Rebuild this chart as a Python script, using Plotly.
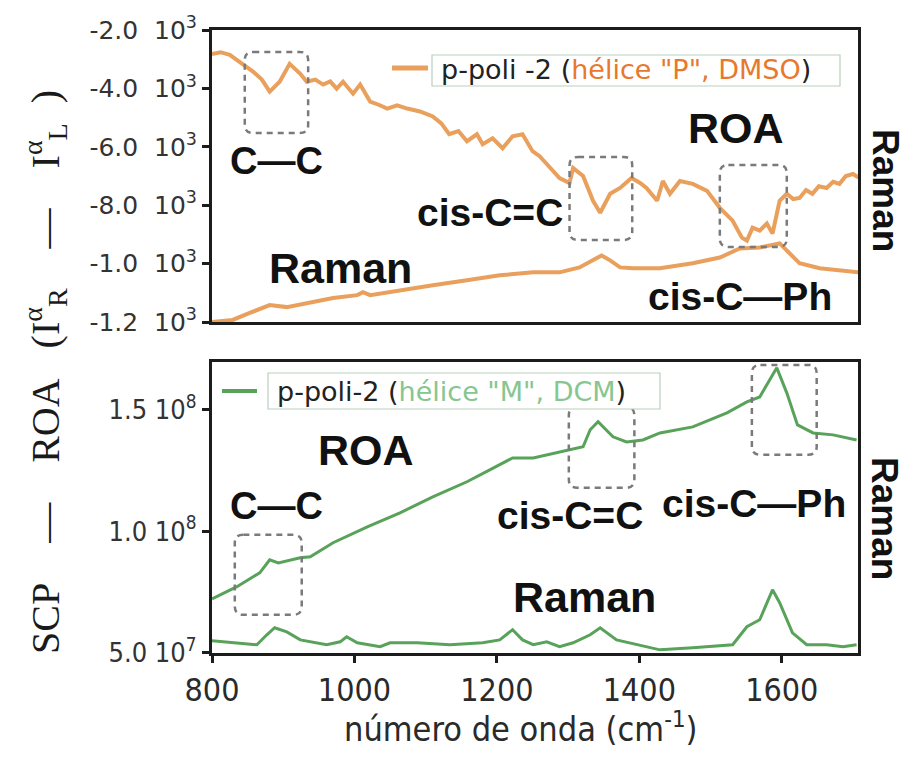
import plotly.graph_objects as go

# ---------------- data ----------------
# upper panel: p-poli-2, "P" helix in DMSO
roa_p_x = [800, 812, 825, 836, 844, 858, 870, 881, 895, 909, 924, 933, 945, 956, 966, 975,
           984, 998, 1008, 1022, 1034, 1046, 1060, 1074, 1092, 1110, 1122, 1133, 1146, 1158,
           1172, 1180, 1194, 1208, 1222, 1236, 1250, 1260, 1270, 1280, 1288, 1302, 1307,
           1321, 1335, 1345, 1359, 1373, 1389, 1401, 1410, 1425, 1433, 1443, 1457, 1475,
           1495, 1513, 1531, 1544, 1551, 1559, 1569, 1579, 1587, 1597, 1607, 1616, 1625,
           1634, 1643, 1652, 1663, 1672, 1681, 1690, 1700, 1709]
roa_p_y = [-2820, -2760, -2850, -3050, -3190, -3430, -3700, -4110, -3770, -3160, -3500,
           -3770, -3700, -3870, -3760, -4010, -3770, -4180, -3870, -4450, -4560, -4690,
           -4580, -4690, -4790, -4960, -5200, -5570, -5460, -5810, -5570, -5910, -5710,
           -6050, -5640, -5570, -6150, -6320, -6590, -6860, -7070, -7240, -6730, -7000,
           -7850, -8260, -7610, -7410, -7070, -7240, -7410, -7850, -7170, -7610, -7170,
           -7270, -7510, -8090, -8530, -9110, -9210, -8770, -8870, -8630, -8970, -7850,
           -7610, -7790, -7750, -7480, -7610, -7350, -7410, -7200, -7270, -7000, -6930,
           -7070]

raman_p_x = [800, 829, 853, 881, 905, 942, 970, 1004, 1012, 1022, 1064, 1110, 1158, 1204,
             1251, 1288, 1316, 1335, 1347, 1359, 1373, 1391, 1429, 1475, 1513, 1541, 1569,
             1597, 1611, 1625, 1653, 1709]
raman_p_y = [-12000, -11930, -11690, -11420, -11490, -11320, -11180, -11080, -10980,
             -11080, -10910, -10740, -10570, -10400, -10300, -10300, -10130, -9890, -9720,
             -9890, -10130, -10160, -10160, -9990, -9790, -9480, -9450, -9310, -9650, -9990,
             -10160, -10300]

# lower panel: p-poli-2, "M" helix in DCM
roa_m_x = [800, 835, 867, 881, 893, 924, 938, 970, 1018, 1064, 1110, 1158, 1190, 1222,
           1251, 1298, 1321, 1331, 1342, 1363, 1382, 1405, 1429, 1475, 1523, 1551, 1569,
           1593, 1607, 1622, 1644, 1672, 1705]
roa_m_y = [72.2e6, 77.2e6, 82.9e6, 88.3e6, 87.0e6, 89.1e6, 89.5e6, 95.3e6, 101.8e6,
           107.6e6, 114.2e6, 120.4e6, 125.3e6, 130.2e6, 130.2e6, 133.5e6, 134.8e6,
           141.8e6, 145.1e6, 138.9e6, 136.8e6, 137.6e6, 140.5e6, 143.0e6, 148.8e6,
           153.3e6, 155.3e6, 167.3e6, 157.0e6, 143.8e6, 140.5e6, 139.7e6, 137.6e6]

raman_m_x = [800, 835, 863, 877, 888, 905, 924, 961, 980, 989, 1004, 1036, 1050, 1088,
             1134, 1180, 1204, 1222, 1236, 1251, 1270, 1288, 1307, 1331, 1345, 1368, 1396,
             1429, 1475, 1531, 1551, 1569, 1587, 1597, 1615, 1635, 1663, 1686, 1705]
raman_m_y = [54.9e6, 54.1e6, 53.3e6, 57.4e6, 60.3e6, 58.6e6, 55.3e6, 53.3e6, 54.5e6,
             56.6e6, 54.1e6, 52.5e6, 54.1e6, 54.1e6, 53.3e6, 54.1e6, 55.3e6, 59.5e6,
             55.3e6, 53.3e6, 54.5e6, 52.5e6, 54.1e6, 57.4e6, 60.3e6, 55.3e6, 53.3e6,
             51.2e6, 52.1e6, 53.3e6, 60.7e6, 63.6e6, 75.9e6, 70.6e6, 58.2e6, 53.3e6,
             53.3e6, 52.5e6, 53.3e6]

# axis ticks
sp = "\u00a0"
x_ticks = [800, 1000, 1200, 1400, 1600]
top_ticks = [-2000, -4000, -6000, -8000, -10000, -12000]
top_ticktext = [f"-2.0{sp*2}10<sup>3</sup>", f"-4.0{sp*2}10<sup>3</sup>",
                f"-6.0{sp*2}10<sup>3</sup>", f"-8.0{sp*2}10<sup>3</sup>",
                f"-1.0{sp*2}10<sup>3</sup>", f"-1.2{sp*2}10<sup>3</sup>"]
bot_ticks = [5.0e7, 1.0e8, 1.5e8]
bot_ticktext = ["5.0 10<sup>7</sup>", "1.0 10<sup>8</sup>", "1.5 10<sup>8</sup>"]

# highlighted bands: (x0, x1, y0, y1)
top_bands = [(846, 935, -5530, -2750), (1302, 1390, -9190, -6350), (1513, 1607, -9430, -6620)]
bot_bands = [(832, 926, 65.6e6, 98.6e6), (1301, 1393, 117.9e6, 151.2e6),
             (1558, 1649, 131.5e6, 168.5e6)]

ORANGE = "#E9A05C"
ORANGE_TXT = "#E8792C"
GREEN = "#58A25A"
GREEN_TXT = "#86C690"
FRAME = "#1c1c1c"
COND = "DejaVu Sans Condensed, Liberation Sans Narrow, sans-serif"
BOLD = "Liberation Sans, Arial, sans-serif"

fig = go.Figure()
line_kw = dict(mode="lines", showlegend=False, hoverinfo="skip")
fig.add_trace(go.Scatter(x=roa_p_x, y=roa_p_y, xaxis="x", yaxis="y",
                         line=dict(color=ORANGE, width=4), **line_kw))
fig.add_trace(go.Scatter(x=raman_p_x, y=raman_p_y, xaxis="x", yaxis="y",
                         line=dict(color=ORANGE, width=4), **line_kw))
fig.add_trace(go.Scatter(x=roa_m_x, y=roa_m_y, xaxis="x2", yaxis="y2",
                         line=dict(color=GREEN, width=3), **line_kw))
fig.add_trace(go.Scatter(x=raman_m_x, y=raman_m_y, xaxis="x2", yaxis="y2",
                         line=dict(color=GREEN, width=3), **line_kw))

frame = dict(showline=True, mirror=True, linewidth=3, linecolor=FRAME,
             showgrid=False, zeroline=False)


def rounded_box(x0, x1, y0, y1, rx, ry):
    return (f"M {x0+rx},{y1} L {x1-rx},{y1} Q {x1},{y1} {x1},{y1-ry} "
            f"L {x1},{y0+ry} Q {x1},{y0} {x1-rx},{y0} L {x0+rx},{y0} "
            f"Q {x0},{y0} {x0},{y0+ry} L {x0},{y1-ry} Q {x0},{y1} {x0+rx},{y1} Z")


shapes = []
for (x0, x1, y0, y1) in top_bands:
    shapes.append(dict(type="path", xref="x", yref="y",
                       path=rounded_box(x0, x1, y0, y1, 12, 280),
                       line=dict(color="#7a7a7a", width=2.5, dash="6px,5px")))
for (x0, x1, y0, y1) in bot_bands:
    shapes.append(dict(type="path", xref="x2", yref="y2",
                       path=rounded_box(x0, x1, y0, y1, 12, 3.4e6),
                       line=dict(color="#7a7a7a", width=2.5, dash="6px,5px")))

# legend keys and frames (paper coordinates from pixel positions)
W, H, L, B = 646.0, 623.0, 212.0, 653.0


def px(xp):
    return (xp - L) / W


def py(yp):
    return (B - yp) / H


shapes += [
    dict(type="line", xref="paper", yref="paper", x0=px(392), x1=px(428), y0=py(68), y1=py(68),
         line=dict(color=ORANGE, width=5)),
    dict(type="rect", xref="paper", yref="paper", x0=px(432), x1=px(840), y0=py(86), y1=py(55),
         line=dict(color="#b9cfbd", width=1.2), fillcolor="white", layer="above"),
    dict(type="line", xref="paper", yref="paper", x0=px(222), x1=px(257), y0=py(391), y1=py(391),
         line=dict(color=GREEN, width=4)),
    dict(type="rect", xref="paper", yref="paper", x0=px(268), x1=px(660), y0=py(409), y1=py(373),
         line=dict(color="#b9cfbd", width=1.2), fillcolor="white", layer="above"),
]

annotations = []


def label(text, x, y, xref, yref, size, angle=0, color="#111"):
    annotations.append(dict(text=f"<b>{text}</b>", x=x, y=y, xref=xref, yref=yref,
                            xanchor="center", yanchor="middle",
                            showarrow=False, textangle=angle,
                            font=dict(family=BOLD, size=size, color=color)))


# upper panel labels
label("C—C", 891, -6470, "x", "y", 38)
label("ROA", 1535, -5350, "x", "y", 43)
label("cis-C=C", 1190, -8260, "x", "y", 39)
label("Raman", 980, -10150, "x", "y", 43)
label("cis-C—Ph", 1541, -11130, "x", "y", 39)
# lower panel labels
label("ROA", 1016, 133.5e6, "x2", "y2", 43)
label("C—C", 891, 110.5e6, "x2", "y2", 38)
label("cis-C=C", 1303, 106.5e6, "x2", "y2", 39)
label("cis-C—Ph", 1561, 111.5e6, "x2", "y2", 39)
label("Raman", 1323, 73.0e6, "x2", "y2", 43)
# side labels
label("Raman", px(885), py(190), "paper", "paper", 37, angle=90)
label("Raman", px(885), py(518), "paper", "paper", 37, angle=90)

# legend texts
annotations.append(dict(
    text=f'p-poli -2 (<span style="color:{ORANGE_TXT}">hélice "P", DMSO</span>)',
    x=px(439), y=py(70), xref="paper", yref="paper", xanchor="left", yanchor="middle",
    showarrow=False, font=dict(family="DejaVu Sans, sans-serif", size=27, color="#222")))
annotations.append(dict(
    text=f'p-poli-2 (<span style="color:{GREEN_TXT}">hélice "M", DCM</span>)',
    x=px(275), y=py(391), xref="paper", yref="paper", xanchor="left", yanchor="middle",
    showarrow=False, font=dict(family="DejaVu Sans, sans-serif", size=27, color="#222")))

# shared y title
ytitle = (f"SCP{sp*4}—{sp*4}ROA{sp*3}(I<sup>α</sup><sub>R</sub>{sp*4}—{sp*4}"
          f"I<sup>α</sup><sub>L</sub>{sp*2})")
annotations.append(dict(text=ytitle, x=px(45), y=py(372), xref="paper", yref="paper",
                        xanchor="center", yanchor="middle",
                        showarrow=False, textangle=-90,
                        font=dict(family="Liberation Serif, Times New Roman, serif",
                                  size=40, color="#1a1a1a")))

# x title
annotations.append(dict(text="número de onda (cm<sup>-1</sup>)", x=px(520), y=py(727),
                        xref="paper", yref="paper", xanchor="center", yanchor="middle",
                        showarrow=False,
                        font=dict(family=COND, size=34, color="#2a2a2a")))

fig.update_layout(
    width=908, height=762,
    margin=dict(l=212, r=50, t=30, b=109),
    paper_bgcolor="white", plot_bgcolor="white",
    xaxis=dict(domain=[0, 1], anchor="y", range=[800, 1707], showticklabels=False,
               ticks="", **frame),
    yaxis=dict(domain=[py(322), 1], anchor="x", range=[-12000, -2000],
               tickvals=top_ticks, ticktext=top_ticktext, ticks="outside",
               ticklen=7, tickwidth=3, tickcolor=FRAME,
               tickfont=dict(family="DejaVu Sans, sans-serif", size=25, color="#333"),
               **frame),
    xaxis2=dict(domain=[0, 1], anchor="y2", range=[800, 1707], tickvals=x_ticks,
                ticks="outside", ticklen=7, tickwidth=3, tickcolor=FRAME,
                tickfont=dict(family=COND, size=32, color="#2a2a2a"),
                **frame),
    yaxis2=dict(domain=[0, py(362)], anchor="x2", range=[49.9e6, 169.7e6],
                tickvals=bot_ticks, ticktext=bot_ticktext, ticks="outside",
                ticklen=7, tickwidth=3, tickcolor=FRAME,
                tickfont=dict(family=COND, size=27, color="#333"),
                **frame),
    shapes=shapes,
    annotations=annotations,
)

fig.write_html("out.html")
